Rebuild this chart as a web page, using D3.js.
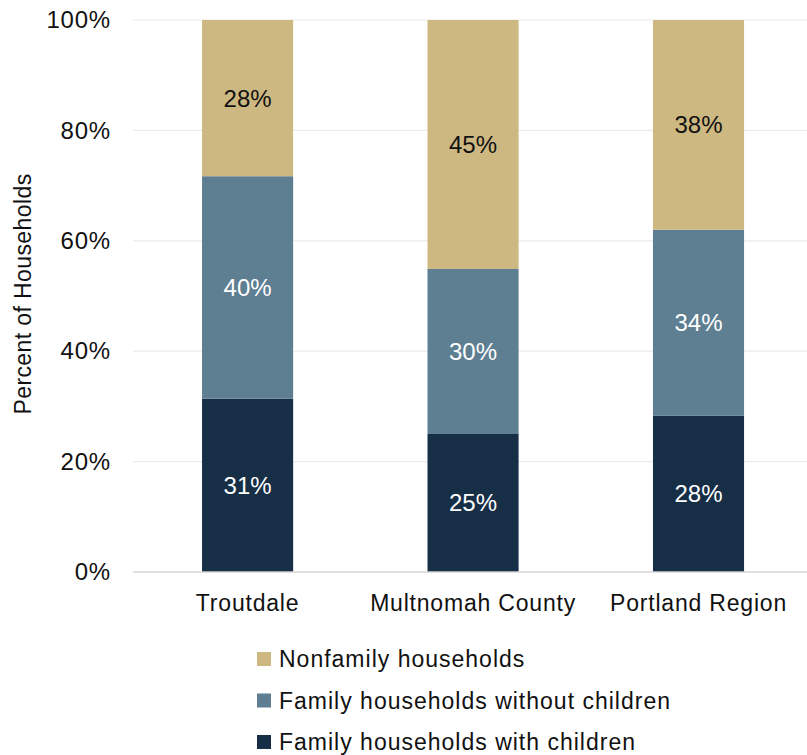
<!DOCTYPE html>
<html><head><meta charset="utf-8">
<script src="https://cdn.jsdelivr.net/npm/d3@7"></script>
<style>body{margin:0;background:#fff}svg{display:block}text{font-family:"Liberation Sans",Arial,sans-serif}</style>
</head><body>
<div id="chart"></div>
<script>
const categories = ["Troutdale", "Multnomah County", "Portland Region"];
const seriesNames = ["Family households with children", "Family households without children", "Nonfamily households"];
const withChildren = [31.4, 25.0, 28.3];
const withoutChildren = [40.3, 29.9, 33.7];
const nonfamily = [28.3, 45.1, 38.0];
const yTicks = [0, 20, 40, 60, 80, 100];
const colors = ["#172E47", "#5E7E91", "#CDB882"];
const labelColors = ["#ffffff", "#ffffff", "#111111"];

const W = 807, H = 755;
const svg = d3.select("#chart").append("svg").attr("width", W).attr("height", H);
const x = d3.scaleBand().domain(categories).range([134.4, 811.7]).paddingInner(0.596).paddingOuter(0.3);
const y = d3.scaleLinear().domain([0, 100]).range([572, 20]);

// gridlines
svg.append("g").selectAll("line").data(yTicks.slice(1)).join("line")
  .attr("x1", 133).attr("x2", 807).attr("y1", d => y(d)).attr("y2", d => y(d))
  .attr("stroke", "#EBEBEB").attr("stroke-width", 1.2);

const rows = categories.map((c, i) => ({cat: c, s0: withChildren[i], s1: withoutChildren[i], s2: nonfamily[i]}));
const stack = d3.stack().keys(["s0", "s1", "s2"])(rows);

stack.forEach((layer, li) => {
  const g = svg.append("g");
  g.selectAll("rect").data(layer).join("rect")
    .attr("x", d => x(d.data.cat)).attr("width", x.bandwidth())
    .attr("y", d => y(d[1])).attr("height", d => y(d[0]) - y(d[1]))
    .attr("fill", colors[li]);
  g.selectAll("text").data(layer).join("text")
    .attr("x", d => x(d.data.cat) + x.bandwidth() / 2)
    .attr("y", d => y((d[0] + d[1]) / 2))
    .attr("dy", "0.35em").attr("text-anchor", "middle")
    .attr("font-size", 24).attr("fill", labelColors[li])
    .text(d => Math.round(d[1] - d[0]) + "%");
});

// x axis line
svg.append("line").attr("x1", 133).attr("x2", 807).attr("y1", y(0)).attr("y2", y(0))
  .attr("stroke", "#D4D4D4").attr("stroke-width", 1.5);

// y axis
const yAxis = d3.axisLeft(y).tickValues(yTicks).tickFormat(d => d + "%").tickSize(0).tickPadding(0);
const ya = svg.append("g").attr("transform", "translate(111,0)").call(yAxis);
ya.select(".domain").remove();
ya.selectAll("text").attr("font-size", 24).attr("fill", "#111").attr("letter-spacing", "0.8px")
  .style("font-family", '"Liberation Sans",Arial,sans-serif');

// x axis labels
const xAxis = d3.axisBottom(x).tickSize(0).tickPadding(0);
const xa = svg.append("g").attr("transform", "translate(0,595)").call(xAxis);
xa.select(".domain").remove();
xa.selectAll("text").attr("font-size", 23).attr("fill", "#111").attr("letter-spacing", "0.8px")
  .style("font-family", '"Liberation Sans",Arial,sans-serif');

// y title
svg.append("text").attr("transform", "translate(31,294) rotate(-90)")
  .attr("text-anchor", "middle").attr("font-size", 23).attr("fill", "#111").attr("letter-spacing", "0.4px")
  .text("Percent of Households");

// legend
const legendOrder = [2, 1, 0];
const lg = svg.append("g");
legendOrder.forEach((si, k) => {
  const cy = 659 + k * 41.5;
  lg.append("rect").attr("x", 257).attr("y", cy - 7).attr("width", 14).attr("height", 14).attr("fill", colors[si]);
  lg.append("text").attr("x", 279).attr("y", cy).attr("dy", "0.35em")
    .attr("font-size", 23).attr("fill", "#111").attr("letter-spacing", "1px").text(seriesNames[si]);
});
</script>
</body></html>
